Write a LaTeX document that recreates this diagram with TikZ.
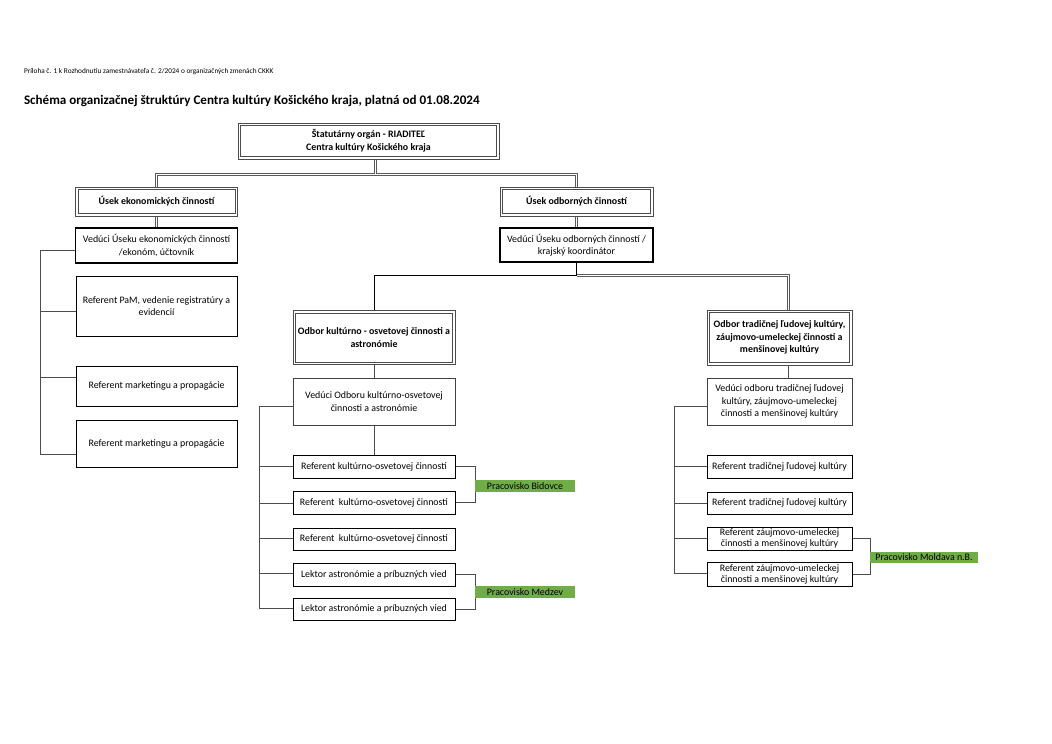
\documentclass[tikz,border=0pt]{standalone}
\usepackage{fontspec}
\setmainfont{Carlito}
\usetikzlibrary{backgrounds}
\begin{document}
\begin{tikzpicture}[x=1pt,y=-1pt,
  every node/.style={inner sep=0pt,outer sep=0pt,align=center,font=\fontsize{9.9}{12.5}\selectfont},
  box/.style={draw=black,line width=0.7pt,fill=white},
  boxthick/.style={draw=black,line width=1.4pt,fill=white},
  boxgray/.style={draw=black!75,line width=0.7pt,fill=white},
  dbox/.style={draw=black!70,line width=0.8pt,fill=white,font=\fontsize{9.9}{12.5}\selectfont\bfseries},
  dinner/.style={draw=black!70,line width=0.8pt},
  conn/.style={draw=black!70,line width=0.8pt},
  dconn/.style={draw=black!65,line width=3pt},
  dconnw/.style={draw=white,line width=1pt},
  greenbox/.style={fill={rgb,255:red,112;green,173;blue,71},draw=none,anchor=west}
]
\useasboundingbox (0,0) rectangle (1052,744);

% header texts
\node[anchor=west,font=\fontsize{7.3}{8}\selectfont] (hdr) at (24,72) {Príloha č. 1 k Rozhodnutiu zamestnávateľa č. 2/2024 o organizačných zmenách CKKK};
\node[anchor=west,font=\fontsize{13.1}{15}\selectfont\bfseries] (title) at (24,101) {Schéma organizačnej štruktúry Centra kultúry Košického kraja, platná od 01.08.2024};

% top
\node[dbox,minimum width=261,minimum height=36] (top) at (368.5,141) {Štatutárny orgán - RIADITEĽ\\Centra kultúry Košického kraja};
\node[dbox,minimum width=162,minimum height=29] (usekE) at (156.5,201.5) {Úsek ekonomických činností};
\node[dbox,minimum width=153,minimum height=29] (usekO) at (576.5,201.5) {Úsek odborných činností};
\node[boxthick,minimum width=162,minimum height=35] (vedE) at (156.5,245.5) {Vedúci Úseku ekonomických činností\\/ekonóm, účtovník};
\node[boxthick,minimum width=153,minimum height=34] (vedO) at (576.5,245) {Vedúci Úseku odborných činností /\\krajský koordinátor};

% left column
\node[box,minimum width=161,minimum height=60] (pam) at (156.5,306) {Referent PaM, vedenie registratúry a\\evidencií};
\node[box,minimum width=161,minimum height=40] (mk1) at (156.5,386) {Referent marketingu a propagácie};
\node[box,minimum width=161,minimum height=47] (mk2) at (156.5,443.5) {Referent marketingu a propagácie};

% middle column
\node[dbox,minimum width=162,minimum height=54] (odK) at (374,337.5) {Odbor kultúrno - osvetovej činnosti a\\astronómie};
\node[boxgray,minimum width=162,minimum height=47] (vedK) at (374,401.5) {Vedúci Odboru kultúrno-osvetovej\\činnosti a astronómie};
\node[box,minimum width=162,minimum height=23] (r1) at (374,466.5) {Referent kultúrno-osvetovej činnosti};
\node[box,minimum width=162,minimum height=23] (r2) at (374,502.5) {Referent \ kultúrno-osvetovej činnosti};
\node[box,minimum width=162,minimum height=22] (r3) at (374,539) {Referent \ kultúrno-osvetovej činnosti};
\node[box,minimum width=162,minimum height=23] (l1) at (374,574.5) {Lektor astronómie a príbuzných vied};
\node[box,minimum width=162,minimum height=22] (l2) at (374,609) {Lektor astronómie a príbuzných vied};

% right column
\node[dbox,minimum width=145,minimum height=55] (odT) at (779.5,337.5) {Odbor tradičnej ľudovej kultúry,\\záujmovo-umeleckej činnosti a\\menšinovej kultúry};
\node[boxgray,minimum width=145,minimum height=47] (vedT) at (779.5,401.5) {Vedúci odboru tradičnej ľudovej\\kultúry, záujmovo-umeleckej\\činnosti a menšinovej kultúry};
\node[box,minimum width=145,minimum height=23] (t1) at (779.5,466.5) {Referent tradičnej ľudovej kultúry};
\node[box,minimum width=145,minimum height=22] (t2) at (779.5,503) {Referent tradičnej ľudovej kultúry};
\node[box,minimum width=145,minimum height=23,font=\fontsize{9.9}{11}\selectfont] (z1) at (779.5,538.5) {Referent záujmovo-umeleckej\\činnosti a menšinovej kultúry};
\node[box,minimum width=145,minimum height=24,font=\fontsize{9.9}{11}\selectfont] (z2) at (779.5,574) {Referent záujmovo-umeleckej\\činnosti a menšinovej kultúry};

% inner lines of double-bordered boxes
\foreach \n in {top,usekE,usekO,odK,odT}
  \draw[dinner] ([shift={(2.4,2.4)}]\n.north west) rectangle ([shift={(-2.4,-2.4)}]\n.south east);

% workplaces
\node[greenbox,minimum width=100,minimum height=12] (pB) at (475,486) {Pracovisko Bidovce};
\node[greenbox,minimum width=100,minimum height=12] (pM) at (475,592) {Pracovisko Medzev};
\node[greenbox,minimum width=108,minimum height=11] (pMo) at (870,557) {Pracovisko Moldava n.B.};

% bus coordinates
\coordinate (busA) at (375.5,174.5);
\coordinate (busB) at (576.5,275.5);

\begin{scope}[on background layer]
% double connectors: dark wide stroke, then white core (boxes cover their ends)
\draw[dconn] ([xshift=7pt]top.center) -- (busA);
\draw[dconn] (busA) -| (usekE.center);
\draw[dconn] (busA) -| (usekO.center);
\draw[dconn] (usekE.center) -- (vedE.center);
\draw[dconn] (usekO.center) -- (vedO.center);
\draw[dconn] (busB) -| ([xshift=9pt]odT.center);
\draw[dconnw] ([xshift=7pt]top.center) -- (busA);
\draw[dconnw] (busA) -| (usekE.center);
\draw[dconnw] (busA) -| (usekO.center);
\draw[dconnw] (usekE.center) -- (vedE.center);
\draw[dconnw] (usekO.center) -- (vedO.center);
\draw[dconnw] (busB) -| ([xshift=9pt]odT.center);
% single connectors
\draw[conn,draw=black] (vedO.center) -- (busB);
\draw[conn,draw=black] (busB) -| (odK.center);
\draw[conn] (odK.center) -- (vedK.center);
\draw[conn] (vedK.center) -- (r1.center);
\draw[conn] ([xshift=9pt]odT.center) -- ([xshift=9pt]vedT.center);

% left spine
\coordinate (eTop) at (40,250);
\coordinate (eB1) at (40,311);
\coordinate (eB2) at (40,377);
\coordinate (eBot) at (40,454);
\draw[conn] (vedE.center |- eTop) -- (eTop) -- (eBot) -- (mk2.center |- eBot);
\draw[conn] (eB1) -- (pam.center |- eB1);
\draw[conn] (eB2) -- (mk1.center |- eB2);

% middle spine
\coordinate (kTop) at (259,406);
\coordinate (kB1) at (259,466.5);
\coordinate (kB2) at (259,503);
\coordinate (kB3) at (259,538.5);
\coordinate (kB4) at (259,573.5);
\coordinate (kBot) at (259,608);
\draw[conn] (vedK.center |- kTop) -- (kTop) -- (kBot) -- (l2.center |- kBot);
\draw[conn] (kB1) -- (r1.center |- kB1);
\draw[conn] (kB2) -- (r2.center |- kB2);
\draw[conn] (kB3) -- (r3.center |- kB3);
\draw[conn] (kB4) -- (l1.center |- kB4);

% right spine
\coordinate (tTop) at (674,406);
\coordinate (tB1) at (674,466.5);
\coordinate (tB2) at (674,503);
\coordinate (tB3) at (674,538.5);
\coordinate (tBot) at (674,573);
\draw[conn] (vedT.center |- tTop) -- (tTop) -- (tBot) -- (z2.center |- tBot);
\draw[conn] (tB1) -- (t1.center |- tB1);
\draw[conn] (tB2) -- (t2.center |- tB2);
\draw[conn] (tB3) -- (z1.center |- tB3);

% workplace brackets
\draw[conn] (r1.center) -- (r1.center -| pB.west) |- (r2.center);
\draw[conn] (l1.center) -- (l1.center -| pM.west) |- (l2.center);
\draw[conn] (z1.center) -- (z1.center -| pMo.west) |- (z2.center);
\end{scope}
\end{tikzpicture}
\end{document}
